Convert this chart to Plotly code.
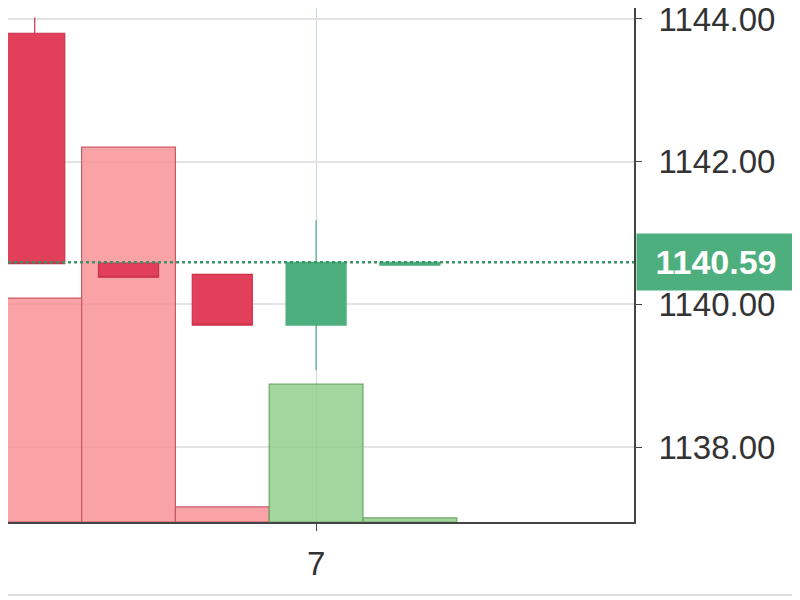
import plotly.graph_objects as go

# dados do recorte (velas + volume)
x_vals = [4, 5, 6, 7, 8]
abertura = [1143.80, 1140.58, 1140.42, 1139.71, 1140.55]
maxima = [1144.02, 1140.58, 1140.42, 1141.18, 1140.59]
minima = [1140.57, 1140.38, 1139.71, 1139.08, 1140.55]
fechamento = [1140.57, 1140.38, 1139.71, 1140.59, 1140.59]
volume = [4290, 7180, 290, 2640, 80]

ultimo_preco = 1140.59
ticks_preco = [1138, 1140, 1142, 1144]

verde = '#4caf7d'
vermelho = '#e2405a'

cores_vol = []
bordas_vol = []
for o, c in zip(abertura, fechamento):
    if c >= o:
        cores_vol.append('rgba(140,204,135,0.8)')
        bordas_vol.append('#6aaa66')
    else:
        cores_vol.append('rgba(247,140,145,0.8)')
        bordas_vol.append('#c95a68')

fig = go.Figure()

fig.add_trace(go.Bar(
    x=x_vals, y=volume, width=1, yaxis='y',
    marker=dict(color=cores_vol, line=dict(color=bordas_vol, width=1.2)),
    showlegend=False, hoverinfo='skip'
))

fig.add_trace(go.Candlestick(
    x=x_vals, open=abertura, high=maxima, low=minima, close=fechamento,
    yaxis='y2', whiskerwidth=0,
    increasing=dict(fillcolor=verde, line=dict(color=verde, width=1.2)),
    decreasing=dict(fillcolor=vermelho, line=dict(color='#cc3148', width=1.2)),
    showlegend=False
))

fig.add_shape(type='line', xref='paper', x0=0, x1=1, yref='y2',
              y0=ultimo_preco, y1=ultimo_preco,
              line=dict(color='#3a9466', width=2.5, dash='dot'))

fig.add_shape(type='line', xref='paper', x0=0, x1=1.26, yref='paper',
              y0=-0.142, y1=-0.142, line=dict(color='#dddddd', width=2))

fig.add_annotation(x=1, xref='paper', y=ultimo_preco, yref='y2',
                   text='<b>%.2f</b>' % ultimo_preco, showarrow=False,
                   xanchor='left', xshift=2, bgcolor=verde, borderpad=9,
                   width=140, align='center',
                   font=dict(color='white', size=34, family='Liberation Sans'))

fig.update_layout(
    width=800, height=600,
    margin=dict(l=0, r=174, t=0, b=86, autoexpand=False),
    plot_bgcolor='white', paper_bgcolor='white',
    font=dict(family='Liberation Sans', size=33, color='#333333'),
    boxgap=0.36, boxgroupgap=0,
    xaxis=dict(range=[3.715, 10.39], tickvals=[7], ticktext=['7'],
               showgrid=True, gridcolor='#c8d6e2', gridwidth=1,
               showline=True, linecolor='#444444', linewidth=2,
               ticks='outside', ticklen=7, tickcolor='#444444',
               ticklabelstandoff=4, automargin=False,
               zeroline=False, rangeslider=dict(visible=False)),
    yaxis=dict(range=[0, 9847], visible=False, showgrid=False),
    yaxis2=dict(overlaying='y', side='right',
                range=[1136.95, 1144.154],
                tickvals=ticks_preco,
                ticktext=['%.2f' % t for t in ticks_preco],
                showgrid=True, gridcolor='#e3e3e3', gridwidth=2,
                showline=True, linecolor='#444444', linewidth=2,
                ticks='outside', ticklen=6, tickcolor='#444444',
                ticklabelstandoff=10, ticklabeloverflow='allow',
                automargin=False, zeroline=False),
)

fig.write_html("out.html")
